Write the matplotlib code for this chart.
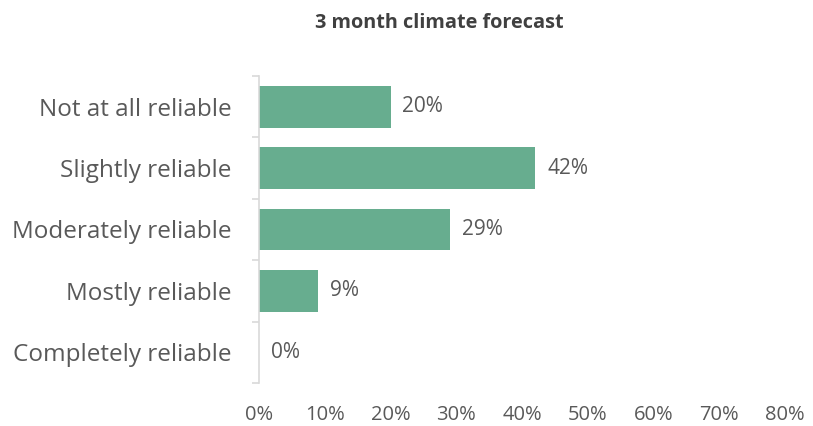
import matplotlib.pyplot as plt
import numpy as np

categories = ["Not at all reliable", "Slightly reliable", "Moderately reliable",
              "Mostly reliable", "Completely reliable"]
values = [20, 42, 29, 9, 0]
xticks = [0, 10, 20, 30, 40, 50, 60, 70, 80]

plt.rcParams['font.family'] = ['Open Sans', 'DejaVu Sans']

fig = plt.figure(figsize=(8.13, 4.26), dpi=100)
ax = fig.add_axes([0.3186, 0.101, 0.647, 0.7206])

y = np.arange(len(categories))
ax.barh(y, values, height=0.68, color="#67AD8F")
for yi, v in zip(y, values):
    ax.text(v + 1.8, yi, f"{v}%", va="center", ha="left", fontsize=15, color="#595959")

ax.set_xlim(0, 80)
ax.set_ylim(len(categories) - 0.5, -0.5)
ax.set_yticks(y)
ax.set_yticklabels(categories, fontsize=17.5, color="#595959")
ax.tick_params(axis='y', which='major', length=0, pad=20)
ax.set_yticks(np.arange(-0.5, len(categories)), minor=True)
ax.tick_params(axis='y', which='minor', length=5, color="#D9D9D9", width=1.2)

ax.set_xticks(xticks)
ax.set_xticklabels([f"{t}%" for t in xticks], fontsize=14.5, color="#595959")
ax.tick_params(axis='x', length=0, pad=16)

for s in ["top", "right", "bottom"]:
    ax.spines[s].set_visible(False)
ax.spines["left"].set_color("#D9D9D9")
ax.spines["left"].set_linewidth(1.2)

fig.text(0.5406, 0.945, "3 month climate forecast", ha="center", va="center",
         fontsize=14.3, fontweight="bold", color="#404040")

fig.savefig("out.png", dpi=100)
